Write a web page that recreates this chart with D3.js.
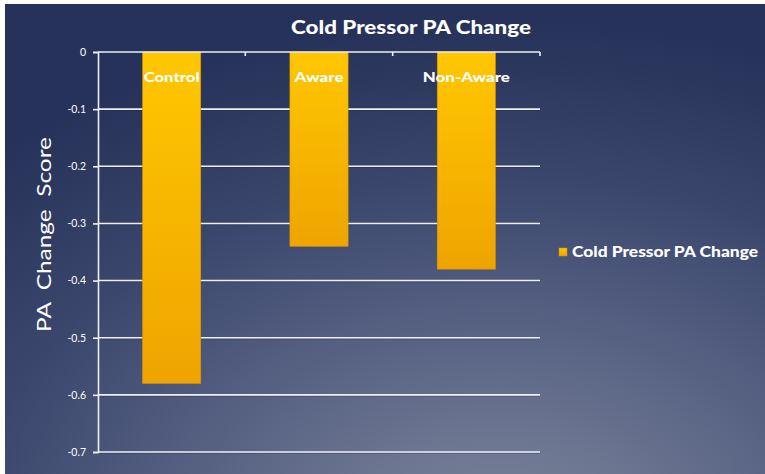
<!DOCTYPE html>
<html>
<head>
<meta charset="utf-8">
<script src="https://cdn.jsdelivr.net/npm/d3@7"></script>
<style>
  html, body { margin: 0; padding: 0; background: #ffffff; }
  svg { display: block; }
  text { font-family: "Lato", "Open Sans", "DejaVu Sans", sans-serif; }
</style>
</head>
<body>
<svg id="chart" width="765" height="474"></svg>
<script>
// Chart data
const categories = ["Control", "Aware", "Non-Aware"];
const values = [-0.58, -0.34, -0.38];
const seriesName = "Cold Pressor PA Change";
const yTicks = [0, -0.1, -0.2, -0.3, -0.4, -0.5, -0.6, -0.7];
const yTickLabels = ["0", "-0.1", "-0.2", "-0.3", "-0.4", "-0.5", "-0.6", "-0.7"];
const chartTitle = "Cold Pressor PA Change";
const yTitle = "PA  Change  Score";

const W = 765, H = 474;
const svg = d3.select("#chart");
const defs = svg.append("defs");

// Slide-style background: dark navy fading to a lighter slate glow at the bottom
const bg = defs.append("radialGradient")
  .attr("id", "bgGrad")
  .attr("gradientUnits", "userSpaceOnUse")
  .attr("cx", 0).attr("cy", 0).attr("r", 1)
  .attr("gradientTransform", "translate(500,540) scale(760,520)");
[[0, "#7a8499"], [0.2, "#6c7691"], [0.45, "#535e80"], [0.7, "#3a466c"], [0.9, "#2c385e"], [1, "#27325a"]]
  .forEach(([o, c]) => bg.append("stop").attr("offset", o).attr("stop-color", c));

const barGrad = defs.append("linearGradient")
  .attr("id", "barGrad").attr("x1", 0).attr("y1", 0).attr("x2", 0).attr("y2", 1);
barGrad.append("stop").attr("offset", 0).attr("stop-color", "#ffc700");
barGrad.append("stop").attr("offset", 1).attr("stop-color", "#efa400");

svg.append("rect").attr("x", 0).attr("y", 0).attr("width", W).attr("height", H).attr("fill", "#ffffff");
svg.append("rect").attr("x", 5).attr("y", 4).attr("width", W - 5).attr("height", H - 4).attr("fill", "url(#bgGrad)");

// Plot area
const plot = { left: 98, right: 540, top: 52, bottom: 452 };

const x = d3.scaleBand()
  .domain(categories)
  .range([plot.left, plot.right])
  .paddingInner(0.605)
  .paddingOuter(0.3025);

// Band boundaries for the category ticks
const xOuter = d3.scaleBand().domain(categories).range([plot.left, plot.right]);

const y = d3.scaleLinear().domain([0, -0.7]).range([plot.top, plot.bottom]);

// Horizontal gridlines with a faint shadow
const grid = svg.append("g");
grid.selectAll("line.shadow")
  .data(yTicks.slice(1))
  .join("line")
  .attr("class", "shadow")
  .attr("x1", plot.left).attr("x2", plot.right)
  .attr("y1", d => y(d) + 1.2).attr("y2", d => y(d) + 1.2)
  .attr("stroke", "#1c2340").attr("stroke-opacity", 0.35).attr("stroke-width", 1);
grid.selectAll("line.major")
  .data(yTicks.slice(1))
  .join("line")
  .attr("class", "major")
  .attr("x1", plot.left).attr("x2", plot.right)
  .attr("y1", d => y(d)).attr("y2", d => y(d))
  .attr("stroke", "#eef0f4").attr("stroke-width", 1.6);

// Y axis
const yAxis = d3.axisLeft(y)
  .tickValues(yTicks)
  .tickFormat((d, i) => yTickLabels[i])
  .tickSize(5)
  .tickPadding(7);
const yg = svg.append("g").attr("transform", `translate(${plot.left},0)`).call(yAxis);
yg.select(".domain").attr("stroke", "#eef0f4").attr("stroke-width", 1.6);
yg.selectAll(".tick line").attr("stroke", "#eef0f4").attr("stroke-width", 1.6);
yg.selectAll(".tick text")
  .attr("fill", "#ffffff")
  .attr("font-size", 10.5)
  .style("font-family", "Lato, 'Open Sans', sans-serif");

// Bars
svg.append("g").selectAll("rect")
  .data(categories.map((c, i) => ({ c, v: values[i] })))
  .join("rect")
  .attr("x", d => x(d.c))
  .attr("width", x.bandwidth())
  .attr("y", y(0))
  .attr("height", d => y(d.v) - y(0))
  .attr("fill", "url(#barGrad)")
  .attr("stroke", "#d99400")
  .attr("stroke-width", 0.6);

// Category axis along the zero line, ticks pointing down
svg.append("line")
  .attr("x1", plot.left).attr("x2", plot.right)
  .attr("y1", y(0)).attr("y2", y(0))
  .attr("stroke", "#eef0f4").attr("stroke-width", 1.6);
svg.append("g").selectAll("line")
  .data(categories)
  .join("line")
  .attr("x1", d => xOuter(d) + xOuter.bandwidth())
  .attr("x2", d => xOuter(d) + xOuter.bandwidth())
  .attr("y1", y(0)).attr("y2", y(0) + 4)
  .attr("stroke", "#eef0f4").attr("stroke-width", 1.6);

// Category labels inside the bars
const catWidths = { "Control": 56, "Aware": 49, "Non-Aware": 87 };
svg.append("g").selectAll("text")
  .data(categories)
  .join("text")
  .attr("x", d => x(d) + x.bandwidth() / 2)
  .attr("y", 82)
  .attr("text-anchor", "middle")
  .attr("fill", "#ffffff")
  .attr("font-size", 14)
  .attr("font-weight", "900")
  .attr("textLength", d => catWidths[d])
  .attr("lengthAdjust", "spacingAndGlyphs")
  .text(d => d);

// Title
svg.append("text")
  .attr("x", 411).attr("y", 34)
  .attr("text-anchor", "middle")
  .attr("fill", "#ffffff")
  .attr("font-size", 18.5)
  .attr("font-weight", "900")
  .attr("textLength", 240)
  .attr("lengthAdjust", "spacingAndGlyphs")
  .text(chartTitle);

// Y axis title
svg.append("text")
  .attr("transform", "translate(51,234.5) rotate(-90)")
  .attr("text-anchor", "middle")
  .attr("fill", "#ffffff")
  .attr("font-size", 19)
  .attr("textLength", 195)
  .attr("lengthAdjust", "spacingAndGlyphs")
  .style("white-space", "pre")
  .text(yTitle);

// Legend
const legend = svg.append("g").attr("transform", "translate(559,248)");
legend.append("rect")
  .attr("width", 8).attr("height", 8)
  .attr("fill", "url(#barGrad)")
  .attr("stroke", "#d99400").attr("stroke-width", 0.5);
legend.append("text")
  .attr("x", 13).attr("y", 9)
  .attr("fill", "#ffffff")
  .attr("font-size", 15)
  .attr("font-weight", "900")
  .attr("textLength", 186)
  .attr("lengthAdjust", "spacingAndGlyphs")
  .text(seriesName);
</script>
</body>
</html>
